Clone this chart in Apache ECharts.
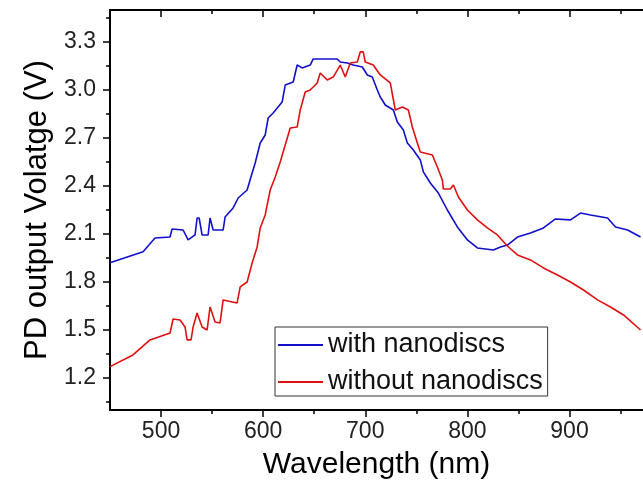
<!DOCTYPE html>
<html><head><meta charset="utf-8">
<script src="https://cdn.jsdelivr.net/npm/echarts@6/dist/echarts.min.js"></script>
<style>html,body{margin:0;padding:0;background:#fff}#c{width:643px;height:490px}</style>
</head><body><div id="c"></div>
<script>
const xMajorTicks = [500, 600, 700, 800, 900];
const xMinorTicks = [550, 650, 750, 850, 950];
const yMajorTicks = [1.2, 1.5, 1.8, 2.1, 2.4, 2.7, 3.0, 3.3];
const yMinorTicks = [1.05, 1.35, 1.65, 1.95, 2.25, 2.55, 2.85, 3.15, 3.45];

const blueWavelength = [450, 482.4, 494.1, 508.8, 510.8, 521.6, 526.5, 533.3, 535.3, 537.3, 540.2, 546.1, 548, 551, 560.8, 562.7, 570.6, 575.5, 584.3, 589.2, 592.2, 597.1, 602, 604.9, 609.8, 618.6, 621.6, 629.4, 633.3, 638.2, 646.1, 649, 672.5, 675.5, 682.4, 688.2, 697.1, 702, 706.9, 711.8, 714.7, 719.6, 727.5, 731.4, 737.3, 741.2, 747.1, 753.9, 756.9, 763.7, 771.6, 780.4, 790.2, 800, 809.8, 825.5, 832.4, 839.2, 849, 861.8, 874.5, 886.3, 901, 910.8, 920.6, 937.3, 945.1, 956.9, 969.6];
const blueVoltage = [1.921, 1.989, 2.075, 2.081, 2.131, 2.125, 2.063, 2.094, 2.2, 2.2, 2.094, 2.094, 2.2, 2.125, 2.125, 2.206, 2.263, 2.325, 2.375, 2.481, 2.544, 2.669, 2.719, 2.825, 2.856, 2.925, 3.031, 3.05, 3.156, 3.138, 3.156, 3.194, 3.194, 3.175, 3.169, 3.156, 3.144, 3.094, 3.081, 3.0, 2.956, 2.906, 2.875, 2.8, 2.75, 2.669, 2.625, 2.563, 2.488, 2.419, 2.356, 2.25, 2.144, 2.063, 2.013, 2.0, 2.019, 2.031, 2.081, 2.106, 2.138, 2.194, 2.188, 2.231, 2.219, 2.2, 2.144, 2.125, 2.081];

const redWavelength = [450, 472.5, 489.2, 508.8, 511.8, 518.6, 523.5, 525.5, 529.4, 531.4, 535.3, 540.2, 545.1, 548, 552.9, 557.8, 560.8, 574.5, 577.5, 584.3, 589.2, 594.1, 597.1, 602, 606.9, 611.8, 616.7, 621.6, 626.5, 633.3, 636.3, 641.2, 646.1, 652.9, 655.9, 662.7, 668.6, 675.5, 680.4, 685.3, 692.2, 695.1, 698, 700, 707.8, 714.7, 724.5, 729.4, 736.3, 742.2, 746.1, 751, 753.9, 765.7, 770.6, 775.5, 776.5, 783.3, 786.3, 791.2, 800, 809.8, 819.6, 829.4, 839.2, 849, 861.8, 874.5, 888.2, 901, 913.7, 927.5, 940.2, 952.9, 969.6];
const redVoltage = [1.271, 1.344, 1.438, 1.481, 1.569, 1.563, 1.519, 1.438, 1.438, 1.519, 1.606, 1.519, 1.5, 1.644, 1.55, 1.544, 1.688, 1.669, 1.769, 1.8, 1.919, 2.019, 2.138, 2.219, 2.375, 2.456, 2.55, 2.656, 2.763, 2.769, 2.875, 2.988, 3.0, 3.044, 3.106, 3.063, 3.081, 3.156, 3.081, 3.169, 3.175, 3.238, 3.238, 3.175, 3.156, 3.094, 3.044, 2.875, 2.894, 2.875, 2.769, 2.669, 2.613, 2.594, 2.519, 2.438, 2.381, 2.381, 2.406, 2.331, 2.25, 2.188, 2.138, 2.094, 2.025, 1.969, 1.938, 1.888, 1.844, 1.8, 1.75, 1.688, 1.644, 1.594, 1.5];

const seriesNames = ['with nanodiscs', 'without nanodiscs'];
const FONT = 'Liberation Sans, Arial, sans-serif';
const X_MIN = 450, X_MAX = 972, Y_MIN = 1.0, Y_MAX = 3.5;

function pairs(xs, ys) { return xs.map((x, i) => [x, ys[i]]); }

function xAx(pos, ticks, len, inside, withLine, withLabel) {
  const a = {
    type: 'value', position: pos, min: X_MIN, max: X_MAX,
    axisLine: { show: withLine, onZero: false, lineStyle: { color: '#000', width: 2 } },
    axisTick: { show: true, customValues: ticks, length: len, inside: inside, lineStyle: { color: '#000', width: 1.5 } },
    axisLabel: withLabel ? { show: true, customValues: ticks, fontSize: 23, color: '#222', margin: 10, fontFamily: FONT } : { show: false },
    splitLine: { show: false }
  };
  if (withLabel) {
    a.name = 'Wavelength (nm)'; a.nameLocation = 'middle'; a.nameGap = 40;
    a.nameTextStyle = { fontSize: 30, color: '#000', fontFamily: FONT };
  }
  return a;
}
function yAx(ticks, len, withLine, withLabel) {
  const a = {
    type: 'value', position: 'left', min: Y_MIN, max: Y_MAX,
    axisLine: { show: withLine, onZero: false, lineStyle: { color: '#000', width: 2 } },
    axisTick: { show: true, customValues: ticks, length: len, inside: false, lineStyle: { color: '#000', width: 1.5 } },
    axisLabel: withLabel ? { show: true, customValues: ticks, fontSize: 23, color: '#222', margin: 14, fontFamily: FONT, formatter: v => Number(v).toFixed(1) } : { show: false },
    splitLine: { show: false }
  };
  if (withLabel) {
    a.name = 'PD output Volatge (V)'; a.nameLocation = 'middle'; a.nameGap = 56; a.nameRotate = 90;
    a.nameTextStyle = { fontSize: 31, color: '#000', fontFamily: FONT };
  }
  return a;
}

const chart = echarts.init(document.getElementById('c'), null, { renderer: 'canvas' });
chart.setOption({
  backgroundColor: '#fff',
  animation: false,
  grid: { left: 110, top: 10, right: 0, bottom: 80, containLabel: false },
  xAxis: [
    xAx('bottom', xMajorTicks, 7, false, true, true),
    xAx('bottom', xMinorTicks, 4, false, false, false),
    xAx('top', xMajorTicks, 7, true, true, false),
    xAx('top', xMinorTicks, 4, true, false, false)
  ],
  yAxis: [
    yAx(yMajorTicks, 7, true, true),
    yAx(yMinorTicks, 4, false, false)
  ],
  legend: {
    orient: 'vertical', left: 275, top: 327, itemWidth: 45, itemHeight: 2, icon: 'rect',
    itemGap: 9, padding: [4, 5, 0, 3], borderColor: '#333', borderWidth: 1, backgroundColor: '#fff',
    textStyle: { fontSize: 27, color: '#111', lineHeight: 28, fontFamily: FONT },
    data: seriesNames
  },
  series: [
    { name: seriesNames[0], type: 'line', xAxisIndex: 0, yAxisIndex: 0, data: pairs(blueWavelength, blueVoltage),
      showSymbol: false, symbol: 'none', color: '#1010cc', lineStyle: { width: 1.6, color: '#1010cc' } },
    { name: seriesNames[1], type: 'line', xAxisIndex: 0, yAxisIndex: 0, data: pairs(redWavelength, redVoltage),
      showSymbol: false, symbol: 'none', color: '#e01010', lineStyle: { width: 1.6, color: '#e01010' } }
  ]
});
</script></body></html>
